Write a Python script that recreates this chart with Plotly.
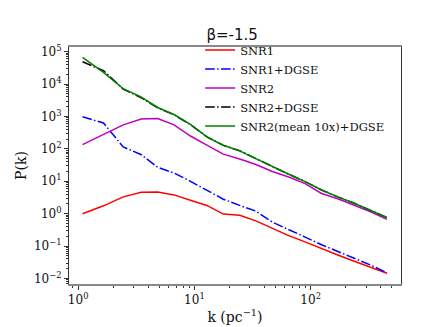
import plotly.graph_objects as go

k = [1.09, 1.65, 2.44, 3.49, 4.83, 6.68, 9.24, 12.8, 17.7, 24.5, 33.8, 46.8,
     64.7, 89.5, 124, 171, 237, 328, 453]
snr1 = [1.0, 1.75, 3.3, 4.6, 4.7, 3.8, 2.6, 1.8, 0.97, 0.9, 0.6, 0.35,
        0.21, 0.135, 0.083, 0.053, 0.034, 0.022, 0.0145]
snr1_dgse = [980, 630, 115, 66, 27, 18, 10, 5.2, 2.8, 1.8, 1.2, 0.55,
             0.33, 0.19, 0.11, 0.068, 0.042, 0.026, 0.015]
snr2 = [135, 270, 550, 830, 870, 550, 250, 130, 69, 49, 33, 20,
        13.6, 8.5, 4.2, 2.9, 1.8, 1.15, 0.67]
snr2_dgse = [4.9e4, 2.6e4, 7.0e3, 3.8e3, 1.85e3, 1.12e3, 560, 235, 128, 88, 50, 28,
             16.5, 9.8, 5.4, 3.3, 2.1, 1.26, 0.76]
snr2_mean_dgse = [6.7e4, 2.3e4, 7.2e3, 3.95e3, 1.9e3, 1.15e3, 570, 235, 130, 87, 50, 28,
                  16.5, 9.8, 5.4, 3.3, 2.1, 1.26, 0.76]

names = ["SNR1", "SNR1+DGSE", "SNR2", "SNR2+DGSE", "SNR2(mean 10x)+DGSE"]
ytick_exp = [-2, -1, 0, 1, 2, 3, 4, 5]
xtick_exp = [0, 1, 2]

dd = "9.6px,2.4px,1.5px,2.4px"
series = [
    (snr1, "#ff0000", "solid"),
    (snr1_dgse, "#0000ff", dd),
    (snr2, "#bf00bf", "solid"),
    (snr2_dgse, "#000000", dd),
    (snr2_mean_dgse, "#008000", "solid"),
]

fig = go.Figure()
for (vals, col, dash), nm in zip(series, names):
    fig.add_trace(go.Scatter(x=k, y=vals, mode="lines", name=nm,
                             line=dict(color=col, width=1.5, dash=dash)))

def sup(e):
    s = str(e).replace("-", "\u2212")
    return "10<sup>" + s + "</sup>"

minor_x = [m * 10 ** d for d in range(-1, 3) for m in range(2, 10)]
minor_y = [m * 10 ** d for d in range(-3, 6) for m in range(2, 10)]

serif = "DejaVu Serif"
fig.update_layout(
    width=436, height=327,
    margin=dict(l=56, r=43, t=39, b=36),
    paper_bgcolor="white", plot_bgcolor="white",
    title=dict(text="\u03b2=-1.5", x=0.514, xanchor="center", y=1 - 27 / 327,
               yanchor="middle", font=dict(family="DejaVu Sans", size=15, color="#111")),
    showlegend=True,
    legend=dict(x=0.395, y=1.048, xanchor="left", yanchor="top",
                bgcolor="rgba(255,255,255,0)", borderwidth=0,
                font=dict(family=serif, size=11.5, color="#111"),
                itemwidth=30, tracegroupgap=0),
    font=dict(family=serif, color="#111"),
)
fig.update_xaxes(
    type="log", range=[-0.079, 2.777],
    tickvals=[10 ** e for e in xtick_exp], ticktext=[sup(e) for e in xtick_exp],
    ticks="outside", ticklen=4, tickwidth=1, tickcolor="#333",
    minor=dict(tickvals=minor_x, ticks="outside", ticklen=2, tickcolor="#333"),
    showline=True, linecolor="#888", linewidth=2, mirror=True,
    showgrid=False, zeroline=False,
    tickfont=dict(family=serif, size=12, color="#111"),
    title=dict(text="k (pc<sup>\u22121</sup>)", standoff=6,
               font=dict(family=serif, size=14, color="#111")),
)
fig.update_yaxes(
    type="log", range=[-2.17, 5.145],
    tickvals=[10 ** e for e in ytick_exp], ticktext=[sup(e) for e in ytick_exp],
    ticks="outside", ticklen=4, tickwidth=1, tickcolor="#333",
    minor=dict(tickvals=minor_y, ticks="outside", ticklen=2, tickcolor="#333"),
    showline=True, linecolor="#333", linewidth=1, mirror=True,
    showgrid=False, zeroline=False,
    tickfont=dict(family=serif, size=12, color="#111"),
    title=dict(text="P(k)", standoff=4,
               font=dict(family=serif, size=14, color="#111")),
)
fig.write_html("out.html")
